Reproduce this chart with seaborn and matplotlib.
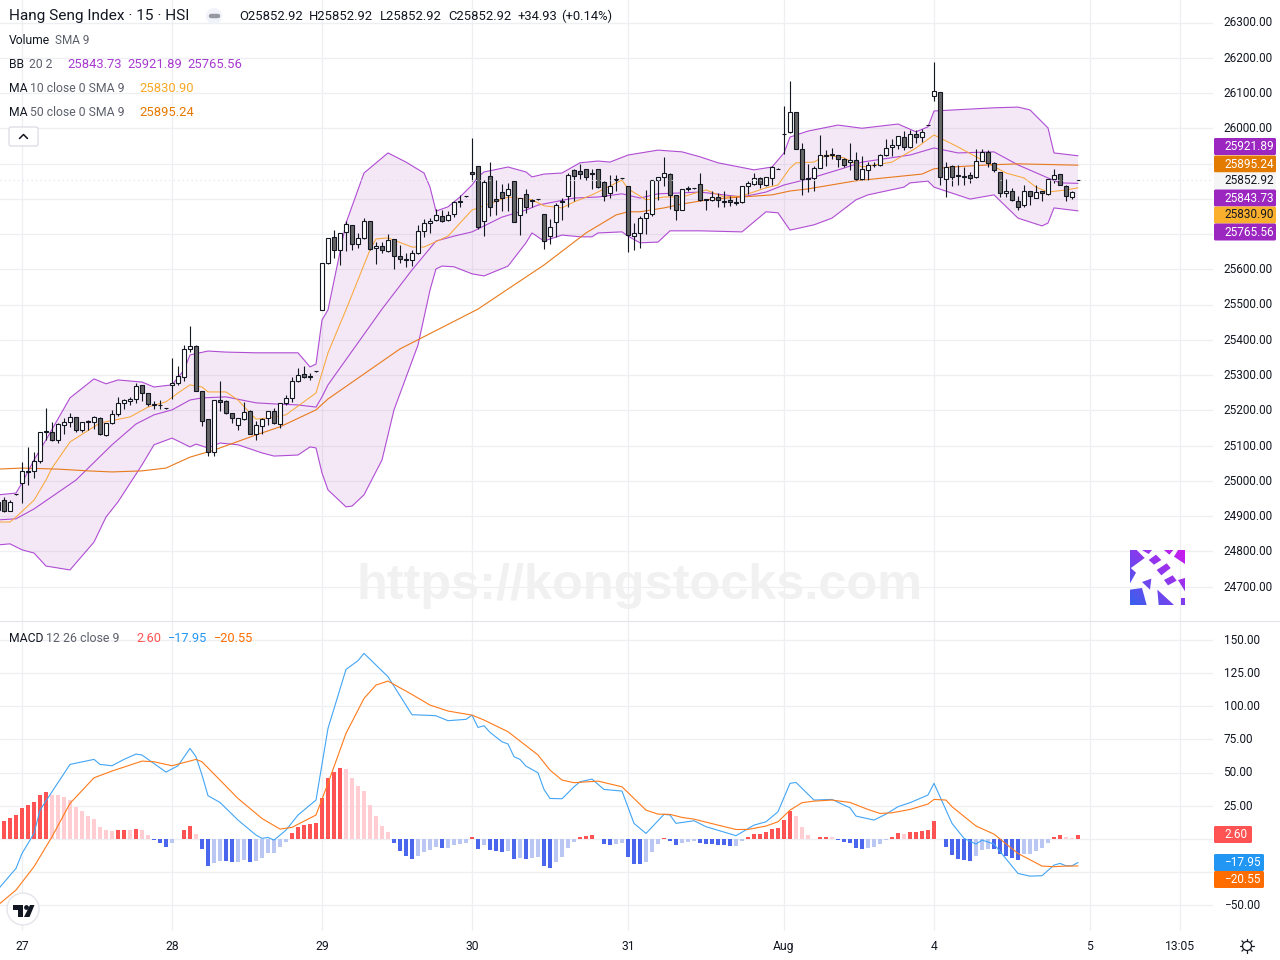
import numpy as np
import pandas as pd
import seaborn as sns
import matplotlib.pyplot as plt
from matplotlib.patches import Circle, FancyBboxPatch, Polygon
from matplotlib.transforms import ScaledTranslation

# candles, one per 15 min bar, first one is index -4
candle_open = [24917,24945,24915,24961,
    24993,25027,25027,25057,25140,25137,25117,25159,25166,25180,
    25145,25169,25166,25177,25131,25163,25188,25220,25225,25231,
    25271,25248,25217,25215,25206,25271,25276,25293,25373,25381,
    25256,25174,25081,25228,25225,25191,25159,25176,25197,25132,
    25154,25177,25197,25160,25221,25234,25282,25302,25297,25310,
    25484,25617,25691,25656,25705,25725,25673,25688,25736,25659,
    25665,25651,25685,25637,25628,25625,25645,25708,25730,25739,
    25750,25739,25756,25790,25808,25875,25892,25736,25864,25798,
    25818,25810,25849,25753,25813,25796,25798,25756,25693,25733,
    25793,25807,25881,25878,25883,25873,25883,25847,25815,25852,
    25858,25835,25693,25702,25745,25756,25853,25861,25870,25810,
    25768,25830,25830,25841,25798,25796,25804,25794,25796,25790,
    25790,25836,25841,25858,25838,25858,25885,25985,25989,26046,
    25941,25858,25858,25887,25923,25926,25924,25912,25904,25909,
    25855,25881,25897,25895,25924,25946,25952,25975,25946,25983,
    25975,26009,26091,26102,25857,25892,25867,25864,25866,25861,
    25907,25932,25901,25875,25816,25821,25793,25781,25821,25803,
    25821,25813,25855,25869,25835,25804,25852.92]
candle_high = [24945,24953,24945,24962,
    25052,25095,25082,25139,25205,25166,25163,25177,25191,25182,
    25166,25172,25184,25180,25165,25201,25237,25233,25237,25276,
    25271,25250,25226,25229,25206,25347,25326,25385,25439,25384,
    25256,25176,25229,25282,25229,25191,25177,25222,25201,25169,
    25177,25198,25205,25221,25242,25293,25319,25326,25307,25311,
    25619,25690,25711,25702,25738,25725,25704,25744,25738,25678,
    25678,25700,25685,25669,25645,25656,25725,25742,25744,25770,
    25767,25764,25795,25810,25808,25971,25892,25853,25903,25852,
    25841,25844,25849,25801,25827,25798,25799,25756,25742,25789,
    25801,25872,25883,25898,25883,25883,25884,25849,25866,25866,
    25859,25835,25731,25751,25825,25854,25861,25918,25872,25810,
    25827,25837,25831,25872,25799,25823,25816,25822,25808,25804,
    25837,25849,25874,25861,25863,25892,25886,26064,26134,26047,
    25958,25899,25893,25981,25937,25943,25925,25915,25958,25932,
    25920,25904,25903,25926,25969,25969,25978,25993,25994,25994,
    25997,26010,26187,26102,25904,25896,25896,25891,25877,25941,
    25941,25937,25903,25875,25855,25830,25808,25838,25822,25838,
    25822,25855,25884,25869,25838,25823,25852.92]
candle_low = [24912,24910,24914,24960,
    24938,24989,25009,25051,25116,25114,25108,25133,25153,25139,
    25139,25144,25147,25130,25127,25160,25185,25204,25215,25221,
    25226,25212,25203,25203,25204,25232,25272,25284,25364,25256,
    25155,25070,25070,25199,25189,25165,25144,25172,25133,25116,
    25134,25157,25161,25150,25215,25223,25279,25291,25286,25309,
    25484,25616,25631,25612,25653,25655,25660,25686,25656,25615,
    25647,25650,25602,25619,25607,25609,25643,25692,25702,25738,
    25734,25736,25749,25777,25806,25850,25714,25694,25751,25754,
    25766,25766,25733,25697,25759,25777,25797,25658,25673,25691,
    25740,25778,25795,25855,25853,25827,25830,25795,25801,25821,
    25857,25650,25655,25660,25700,25750,25797,25837,25772,25740,
    25767,25821,25829,25794,25767,25794,25778,25778,25780,25781,
    25789,25814,25838,25831,25835,25839,25884,25927,25986,25941,
    25811,25820,25823,25886,25893,25914,25891,25891,25882,25854,
    25853,25853,25890,25893,25922,25922,25941,25937,25944,25959,
    25961,26008,26076,25839,25804,25837,25839,25839,25844,25860,
    25906,25890,25877,25804,25804,25794,25768,25778,25783,25801,
    25795,25812,25846,25838,25795,25799,25852.92]
candle_close = [24941,24914,24939,24961,
    25029,25025,25055,25137,25138,25117,25160,25166,25180,25143,
    25166,25167,25180,25134,25163,25188,25221,25228,25231,25268,
    25248,25217,25215,25216,25205,25276,25296,25373,25381,25256,
    25169,25081,25228,25222,25191,25177,25177,25194,25134,25157,
    25174,25197,25163,25220,25234,25282,25299,25293,25295,25310,
    25617,25688,25656,25702,25727,25673,25688,25736,25658,25665,
    25656,25682,25637,25628,25625,25645,25708,25730,25736,25753,
    25736,25753,25790,25795,25807,25869,25721,25847,25778,25795,
    25801,25827,25733,25801,25778,25794,25798,25679,25719,25781,
    25792,25866,25864,25869,25861,25871,25832,25807,25835,25857,
    25858,25696,25702,25745,25759,25852,25861,25872,25810,25768,
    25827,25828,25830,25796,25796,25804,25796,25792,25790,25787,
    25836,25844,25858,25841,25861,25890,25885,25983,26046,25941,
    25855,25856,25887,25924,25921,25924,25912,25895,25909,25855,
    25884,25895,25895,25924,25943,25952,25977,25946,25983,25975,
    25989,26009,26105,25861,25890,25861,25865,25862,25860,25907,
    25932,25901,25881,25816,25823,25796,25778,25823,25807,25819,
    25816,25855,25867,25838,25807,25819,25852.92]

# bollinger bands, read at the bends of each line
upper_bar = [-4,-1,0,2,4,8,12,14,16,20,22,25,27,28,31,34,39,46,48,49,50,51,54,57,61,64,67,68,69,71,73,75,76,77,81,84,85,87,90,93,96,98,101,106,110,113,116,122,125,127,128,131,136,140,146,149,151,152,162,166,168,171,172,176]
upper_val = [24960,24965,24994,25059,25116,25235,25289,25275,25286,25280,25266,25272,25314,25357,25368,25365,25363,25363,25323,25331,25456,25485,25731,25873,25930,25904,25873,25833,25765,25777,25805,25839,25862,25876,25890,25876,25862,25870,25873,25902,25907,25904,25924,25938,25933,25919,25902,25882,25890,25930,25975,25992,26009,26000,26012,25990,26004,26049,26058,26060,26052,26001,25930,25921.89]
lower_bar = [-4,-2,0,2,4,8,12,14,16,20,22,25,28,29,31,33,36,40,42,46,48,49,50,51,54,55,57,60,62,66,68,69,70,72,75,77,81,84,85,87,90,93,95,96,100,101,103,106,108,113,120,124,126,128,132,135,139,141,147,148,151,152,158,162,166,170,171,172,176]
lower_val = [24818,24821,24804,24795,24758,24747,24826,24897,24940,25045,25102,25121,25096,25104,25093,25107,25102,25079,25070,25073,25096,25093,25022,24974,24926,24928,24960,25059,25201,25385,25541,25601,25609,25607,25587,25581,25609,25675,25703,25680,25697,25692,25692,25703,25706,25694,25675,25677,25709,25709,25706,25763,25760,25711,25726,25745,25797,25811,25833,25845,25850,25833,25799,25811,25745,25723,25731,25774,25765.56]
basis_bar = [-4,-1,2,9,15,19,22,25,28,30,34,39,42,46,49,50,51,60,65,69,72,75,80,84,86,92,96,100,103,106,109,113,120,124,127,131,137,140,146,148,152,156,162,166,171,173,176]
basis_val = [24889,24892,24920,25002,25102,25161,25187,25201,25229,25235,25238,25221,25218,25215,25209,25238,25272,25487,25598,25680,25694,25706,25748,25768,25782,25802,25805,25814,25802,25814,25816,25819,25805,25819,25839,25856,25887,25904,25919,25924,25944,25930,25933,25896,25859,25845,25843.73]

# moving averages
ma10_bar = [-4,-2,-1,2,4,5,8,13,18,21,24,26,28,30,31,34,36,38,39,41,44,49,51,54,58,59,61,65,67,71,75,76,81,85,87,90,92,95,100,101,104,107,110,114,117,120,124,126,128,129,132,134,137,140,145,149,152,156,160,164,167,169,171,174,176]
ma10_val = [24883,24883,24897,24945,25002,25036,25110,25164,25181,25209,25224,25249,25272,25266,25252,25252,25229,25192,25175,25178,25187,25249,25363,25485,25655,25686,25689,25663,25663,25694,25768,25774,25805,25797,25780,25774,25791,25811,25853,25828,25797,25805,25805,25825,25805,25808,25831,25839,25887,25902,25904,25924,25916,25890,25904,25944,25981,25947,25910,25873,25859,25833,25819,25825,25830.90]
ma50_bar = [-4,0,6,11,15,20,24,28,32,39,43,49,51,63,76,81,87,94,99,101,103,107,110,115,120,125,128,131,139,150,152,155,161,166,176]
ma50_val = [25033,25036,25033,25028,25025,25028,25036,25067,25087,25130,25153,25201,25232,25374,25487,25544,25612,25703,25754,25763,25763,25774,25785,25799,25805,25811,25822,25828,25851,25870,25885,25890,25896,25899,25895.24]

# macd histogram, same bars as the candles
macd_hist = [11.6,13.3,15.6,17.9,
    23.1,25.4,27.7,33.0,35.2,33.1,33.0,31.5,29.2,23.9,
    20.9,17.1,14.8,8.8,6.5,5.8,6.5,6.6,6.5,7.3,
    6.5,2.8,-1.0,-3.3,-6.3,-3.3,-0.3,6.5,9.6,3.5,
    -7.8,-20.6,-18.4,-16.9,-17.0,-17.7,-17.6,-16.1,-17.7,-16.9,
    -14.6,-10.8,-10.7,-6.3,-2.5,4.3,8.8,10.3,11.1,11.8,
    30.7,45.8,50.3,53.3,52.6,45.8,39.8,36.0,25.4,17.1,
    9.6,5.0,-3.3,-9.3,-13.1,-15.3,-13.1,-10.1,-8.6,-6.3,
    -7.0,-6.9,-4.8,-4.0,-3.3,1.5,-7.8,-4.8,-8.6,-9.3,
    -10.1,-9.3,-15.3,-14.6,-15.4,-14.6,-13.8,-20.6,-22.1,-17.6,
    -13.8,-7.0,-2.5,1.5,2.0,2.8,-0.3,-4.0,-4.8,-4.0,
    -3.3,-13.8,-19.1,-19.2,-17.6,-10.1,-4.0,0.8,-1.8,-4.8,
    -3.3,-2.5,-1.8,-3.3,-4.0,-4.1,-4.8,-4.9,-5.5,-5.4,
    -1.8,1.3,3.5,3.6,5.0,7.3,8.1,14.1,20.9,17.1,
    8.8,2.8,-0.3,1.3,1.4,1.3,-1.0,-2.5,-3.3,-6.8,
    -7.8,-7.0,-6.3,-4.0,-1.0,1.3,4.3,3.5,5.0,5.1,
    5.8,6.5,13.3,-0.3,-6.3,-12.3,-15.3,-16.1,-16.9,-13.1,
    -8.6,-7.8,-7.9,-11.6,-13.1,-14.6,-16.1,-11.6,-11.5,-9.3,
    -7.0,-3.3,1.3,2.8,1.3,0.5,2.60]

macd_bar = [-4,-1,0,2,3,5,8,12,13,15,17,19,20,24,26,28,29,30,31,33,36,37,39,40,41,42,44,46,49,51,54,56,57,61,65,68,69,71,74,75,76,77,78,80,81,82,83,84,86,87,88,90,92,93,95,97,100,102,104,107,108,109,112,114,119,122,124,126,128,129,132,135,137,138,139,142,144,146,148,151,152,155,157,159,160,162,166,168,170,172,173,174,175,176]
macd_val = [-38.2,-22.4,-11.1,4.0,21.6,35.5,56.1,59.9,56.1,55.1,59.9,63.9,63.2,50.3,55.1,68.2,61.9,48.1,32.5,27.4,14.1,10.3,2.8,0.3,1.0,-1.0,6.5,17.9,29.2,83.3,127.8,134.4,139.9,122.3,93.6,93.1,92.8,89.1,90.1,93.3,84.0,85.3,80.3,73.2,71.5,61.9,59.9,54.8,49.8,37.2,30.4,30.2,39.2,43.0,45.0,37.2,36.0,11.6,4.0,18.4,17.9,11.6,13.6,9.1,2.3,10.3,12.8,20.4,41.8,42.5,29.2,29.7,25.4,23.4,17.1,14.1,18.6,24.2,27.2,33.0,41.8,11.6,0.3,-4.0,-1.0,-4.0,-26.2,-28.2,-27.9,-19.9,-18.6,-20.4,-20.4,-17.95]
signal_bar = [-4,-1,2,5,8,12,15,20,22,25,29,30,36,40,43,45,49,51,54,57,59,61,65,68,71,75,77,81,86,88,90,92,96,100,104,106,108,110,112,116,119,121,124,126,128,130,132,135,138,141,143,145,148,151,152,154,155,159,162,166,170,172,174,176]
signal_val = [-50.1,-38.7,-21.1,1.5,26.7,46.0,51.1,58.6,58.1,55.1,59.9,58.1,30.4,15.3,7.3,8.6,17.9,41.8,79.5,105.9,116.0,119.0,108.9,100.9,96.4,93.3,89.6,80.8,63.2,51.8,44.3,42.3,43.5,39.2,21.6,18.6,18.4,16.1,14.8,10.3,7.0,7.0,9.6,12.8,21.6,27.2,28.4,29.2,27.4,22.1,19.1,19.6,22.1,26.2,29.7,29.2,24.2,9.6,3.5,-11.1,-20.6,-21.1,-20.6,-20.55]

price_ticks = [24700,24800,24900,25000,25100,25200,25300,25400,25500,25600,25700,25800,25900,26000,26100,26200,26300]
macd_ticks = [-50,-25,0,25,50,75,100,125,150]
time_ticks = [0,25,50,75,101,127,152,178,193]
time_labels = ['27','28','29','30','31','Aug','4','5','13:05']

# (text, price label colour, text colour, row centre)
price_chips = [('25921.89','#9c27c0','white',146.5),('25895.24','#e37b00','white',164),
               ('25852.92','#f5f5f5','#131722',181),('25843.73','#9c27c0','white',198),
               ('25830.90','#fbb02d','#131722',215),('25765.56','#9c27c0','white',232)]
macd_chips = [('2.60','#ff5252',1252,834.5),('\u221217.95','#2196f3',1264,862.5),('\u221220.55','#ff6d00',1264,879.5)]

INK = '#131722'
GREY = '#5d606b'
GRID = '#eeeff3'
PURPLE = '#a83ad0'

sns.set_theme(style='white')
plt.rcParams['font.family'] = ['Roboto', 'DejaVu Sans']

W, H = 1280, 960
fig = plt.figure(figsize=(W / 100, H / 100), dpi=100, facecolor='white')
ax = fig.add_axes([0, (H - 621) / H, 1213 / W, 621 / H])
ax2 = fig.add_axes([0, (H - 931) / H, 1213 / W, 309 / H])

bars = np.arange(-4, 177)
df = pd.DataFrame({'bar': bars, 'open': candle_open, 'high': candle_high,
                   'low': candle_low, 'close': candle_close, 'hist': macd_hist})


def line(axis, x, y, color, lw=0.8, alpha=1.0, z=3):
    sns.lineplot(x=x, y=y, ax=axis, color=color, linewidth=lw, alpha=alpha, errorbar=None, zorder=z)


# band and lines
ax.fill(upper_bar + lower_bar[::-1], upper_val + lower_val[::-1], color='#9c27b0', alpha=0.1, lw=0, zorder=2)
line(ax, upper_bar, upper_val, PURPLE, alpha=0.9)
line(ax, lower_bar, lower_val, PURPLE, alpha=0.9)
line(ax, basis_bar, basis_val, PURPLE, alpha=0.9)
line(ax, ma10_bar, ma10_val, '#f9a83a', lw=0.75)
line(ax, ma50_bar, ma50_val, '#e87a1c', lw=0.8)

# candles
up = df['close'] >= df['open']
ax.vlines(df['bar'], df['low'], df['high'], color=INK, lw=0.8, zorder=4)
ax.bar(df['bar'], (df['close'] - df['open']).abs(), bottom=df[['open', 'close']].min(axis=1),
       width=0.66, color=np.where(up, 'white', '#666666'), edgecolor=INK, linewidth=0.8, zorder=5)
ax.axhline(candle_close[-1], color='#dde0e8', lw=0.8, ls=(0, (1, 3)), zorder=6)

# macd pane
prev = df['hist'].shift(1).fillna(0)
tone = np.select([(df['hist'] >= 0) & (df['hist'] > prev), df['hist'] >= 0, df['hist'] > prev],
                 ['grow_up', 'fall_up', 'grow_down'], 'fall_down')
sns.barplot(x=df['bar'], y=df['hist'], hue=tone, dodge=False, native_scale=True,
            saturation=1, legend=False, ax=ax2, zorder=2,
            palette={'grow_up': '#ff5252', 'fall_up': '#ffcdd2', 'grow_down': '#b9c7f2', 'fall_down': '#4a66ec'})
# seaborn narrows the bars when hue groups are sparse, so set the width back
for p in ax2.patches:
    mid = p.get_x() + p.get_width() / 2
    p.set_width(0.83)
    p.set_x(mid - 0.415)
    p.set_linewidth(0)
line(ax2, macd_bar, macd_val, '#42a5f5')
line(ax2, signal_bar, signal_val, '#ff7a1a')

x_left, x_right = -22 / 6, (1213 - 22) / 6
ax.set_xlim(x_left, x_right)
ax2.set_xlim(x_left, x_right)
ax.set_ylim(26300 - (621 - 22.5) / 0.3525, 26300 + 22.5 / 0.3525)
ax2.set_ylim((838.75 - 931) / 1.325, (838.75 - 622) / 1.325)

ax.set_yticks(price_ticks)
ax.set_yticklabels([f'{p:.2f}' for p in price_ticks])
ax2.set_yticks(macd_ticks)
ax2.set_yticklabels(['' if m in (0, -25) else f'{m:.2f}'.replace('-', '\u2212') for m in macd_ticks])
ax.set_xticks(time_ticks)
ax.set_xticklabels([])
ax2.set_xticks(time_ticks)
ax2.set_xticklabels(time_labels)
nudge = ScaledTranslation(0, 1 / 100, fig.dpi_scale_trans)
for a in (ax, ax2):
    a.set_xlabel('')
    a.set_ylabel('')
    a.set_facecolor('none')
    a.yaxis.tick_right()
    a.tick_params(axis='y', length=0, pad=7.6, labelsize=8.5, labelcolor=INK)
    a.tick_params(axis='x', length=0, pad=6.6, labelsize=8.7, labelcolor=INK)
    a.grid(True, color=GRID, lw=0.9, zorder=0)
    a.set_axisbelow(True)
    for s in a.spines.values():
        s.set_visible(False)
    for lab in a.get_yticklabels():
        lab.set_transform(lab.get_transform() + nudge)

# everything else is placed in pixels
ov = fig.add_axes([0, 0, 1, 1], zorder=10)
ov.patch.set_alpha(0)
ov.axis('off')


def txt(x, y, s, color=INK, size=8.7, **kw):
    kw.setdefault('ha', 'left')
    return ov.text(x, y, s, color=color, fontsize=size, va='center', **kw)


def chip(x0, x1, yc, face):
    ov.add_patch(FancyBboxPatch((x0, yc - 8.5), x1 - x0, 17, boxstyle='round,pad=0,rounding_size=1.5',
                                fc=face, ec='none'))


ov.plot([0, W], [621, 621], color='#e0e3eb', lw=0.8)

txt(9, 16, 'Hang Seng Index \u00b7 15 \u00b7 HSI', size=11.1)
ov.add_patch(Circle((214, 16), 8, fc='#f0f3fa', ec='none'))
ov.plot([210.5, 217.5], [16, 16], color='#9598a1', lw=3.2, solid_capstyle='round')
for x, s in [(239, 'O25852.92'), (309, 'H25852.92'), (380, 'L25852.92'), (448, 'C25852.92'),
             (517, '+34.93'), (561, '(+0.14%)')]:
    txt(x, 16, s, size=9.4)

txt(9, 40, 'Volume')
txt(55, 40, 'SMA 9', color=GREY, size=8.5)
txt(9, 64, 'BB')
txt(29, 64, '20 2', color=GREY)
for x, s in [(67, '25843.73'), (127, '25921.89'), (187, '25765.56')]:
    txt(x, 64, s, color=PURPLE, size=9.4)
txt(9, 88, 'MA')
txt(30, 88, '10 close 0 SMA 9', color=GREY, size=8.8)
txt(139, 88, '25830.90', color='#f9a825', size=9.4)
txt(9, 112, 'MA')
txt(30, 112, '50 close 0 SMA 9', color=GREY, size=8.8)
txt(139, 112, '25895.24', color='#e87a00', size=9.4)

ov.add_patch(FancyBboxPatch((9, 127), 29, 19, boxstyle='round,pad=0,rounding_size=2', fc='white', ec='#d6d8e0', lw=0.8))
ov.plot([19.5, 23.5, 27.5], [138.5, 134.5, 138.5], color=INK, lw=1.1)

txt(9, 638, 'MACD')
txt(46, 638, '12 26 close 9', color=GREY, size=8.9)
txt(136, 638, '2.60', color='#ff5252', size=9.2)
txt(168, 638, '\u221217.95', color='#2196f3', size=9.2)
txt(214, 638, '\u221220.55', color='#ff6d00', size=9.2)

# price and macd labels on the scale
for label, face, fg, yc in price_chips:
    chip(1214, 1276, yc, face)
    txt(1224, yc, label, color=fg, size=8.5)
for label, face, x1, yc in macd_chips:
    chip(1214, x1, yc, face)
    txt(1224, yc, label, color='white', size=8.5)

# watermark
ov.text(639, 586, 'https://kongstocks.com', family='Liberation Sans', weight='bold', fontsize=36.3,
        color='#f1f1f2', ha='center', va='center', zorder=1)

# site logo, gradient shown through the coloured pieces
gx, gy = np.meshgrid(np.linspace(0, 1, 55), np.linspace(0, 1, 55))
mix = (gx + (1 - gy)) / 2
rgb = np.dstack([0.22 + 0.58 * mix, 0.38 - 0.28 * mix, np.full_like(mix, 0.93)])
pieces = [[(6, 6), (26, 6), (50, 30), (6, 62)], [(42, 6), (72, 6), (62, 18)], [(108, 6), (136, 6), (124, 20)],
          [(150, 6), (171, 6), (171, 48), (138, 26)], [(62, 36), (84, 20), (100, 36), (78, 50)],
          [(86, 66), (116, 46), (128, 60), (100, 82)], [(108, 96), (134, 82), (146, 98), (120, 112)],
          [(6, 58), (24, 74), (6, 106)], [(6, 125), (42, 120), (56, 171), (6, 171)], [(42, 102), (70, 92), (66, 125)],
          [(88, 125), (138, 171), (92, 171)], [(150, 96), (171, 90), (171, 130)], [(160, 150), (171, 150), (171, 171), (160, 171)]]
for piece in pieces:
    pts = [(1128 + px / 3, 548 + py / 3) for px, py in piece]
    shape = Polygon(pts, transform=ov.transData, fc='none', ec='none')
    ov.add_patch(shape)
    im = ov.imshow(rgb, extent=(1130, 1185, 605, 550), aspect='auto', zorder=2, interpolation='bilinear')
    im.set_clip_path(shape)
ov.set_xlim(0, W)
ov.set_ylim(H, 0)

# chart maker badge
ov.add_patch(Circle((23, 909), 16, fc='white', ec='#e3e5ea', lw=1.0))
ov.add_patch(Polygon([(13, 905), (23, 905), (23, 917), (18, 917), (18, 910), (13, 910)], fc=INK, ec='none'))
ov.add_patch(Circle((26.5, 907.5), 2.4, fc=INK, ec='none'))
ov.add_patch(Polygon([(30, 905), (34.5, 905), (29.5, 917), (24, 917)], fc=INK, ec='none'))

# sun icon
ov.add_patch(Circle((1247, 946), 4.5, fc='white', ec=INK, lw=0.9))
for ang in np.deg2rad(np.arange(0, 360, 45)):
    ov.plot([1247 + 5.2 * np.cos(ang), 1247 + 7.2 * np.cos(ang)],
            [946 + 5.2 * np.sin(ang), 946 + 7.2 * np.sin(ang)], color=INK, lw=0.9)

fig.savefig('out.png', dpi=100, facecolor='white')
plt.close(fig)
